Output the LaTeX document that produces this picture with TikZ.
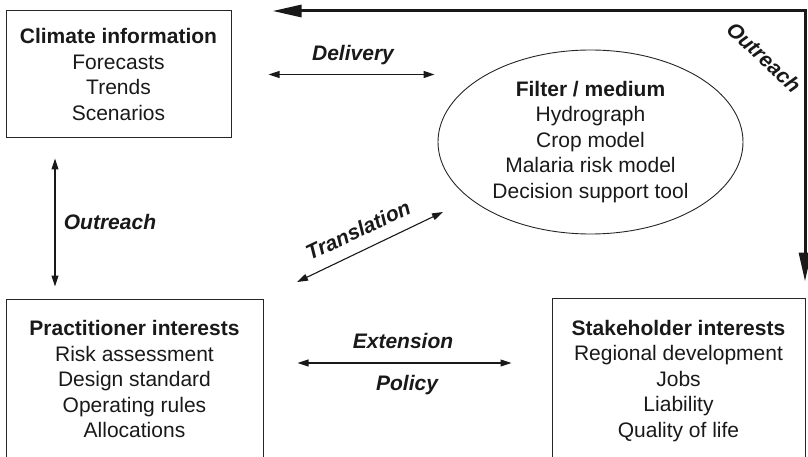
\documentclass[tikz,border=0pt]{standalone}
\usepackage{fontspec}
\setmainfont{Liberation Sans}
\usetikzlibrary{arrows.meta,shapes.geometric}
\begin{document}
\begin{tikzpicture}[x=1pt,y=-1pt,
 txt/.style={font=\fontsize{21}{25.5}\selectfont, align=center, text=black!90},
 boxnode/.style={txt, draw=black!85, line width=1pt, inner sep=0pt},
 ellnode/.style={txt, draw=black!85, ellipse, line width=0.9pt, inner sep=0pt},
 lbl/.style={font=\fontsize{21}{25}\selectfont\bfseries\itshape, inner sep=0pt, text=black!90},
 sarrow/.style={line width=1.1pt, draw=black!90, {Triangle[length=11pt,width=7pt]}-{Triangle[length=11pt,width=7pt]}},
 bigarrow/.style={line width=3pt, draw=black!90, {Triangle[length=29pt,width=12pt]}-{Triangle[length=29pt,width=12pt]}}]
\useasboundingbox (0,0) rectangle (808,457);
% boxes
\node[boxnode, minimum width=225pt, minimum height=127pt] (climate) at (118.5,74.5)
  {\textbf{Climate information}\\Forecasts\\Trends\\Scenarios};
\node[ellnode, minimum width=305pt, minimum height=184pt] (filter) at (590.5,142)
  {\textbf{Filter / medium}\\Hydrograph\\Crop model\\Malaria risk model\\Decision support tool};
\node[boxnode, minimum width=257pt, minimum height=160pt] (prac) at (134.5,379)
  {\textbf{Practitioner interests}\\Risk assessment\\Design standard\\Operating rules\\Allocations};
\node[boxnode, minimum width=253pt, minimum height=166pt] (stake) at (678.5,381)
  {\textbf{Stakeholder interests}\\Regional development\\Jobs\\Liability\\Quality of life};
% helper coordinates
\coordinate (ol) at (55,0);
\coordinate (ey) at (0,363);
\coordinate (t1) at (297,282);
\coordinate (t2) at (443,212);
\coordinate (corner) at (805,11);
% connectors
\draw[sarrow, shorten <=37pt, shorten >=3pt] (climate.east) -- (climate.east -| filter.west);
\draw[sarrow, shorten <=20pt, shorten >=12pt] (climate.south -| ol) -- (prac.north -| ol);
\draw[sarrow] (t1) -- (t2);
\draw[sarrow, shorten <=34pt, shorten >=40pt] (prac.east |- ey) -- (stake.west |- ey);
\draw[bigarrow, shorten <=41pt, shorten >=16pt] (climate.east |- corner) -- (corner) -- (stake.north -| corner);
% labels
\node[lbl] (ldel) at (353,55) {Delivery};
\node[lbl, rotate=25.3] (ltra) at (358,230) {Translation};
\node[lbl] (lout) at (110,222) {Outreach};
\node[lbl] (lext) at (403,341) {Extension};
\node[lbl] (lpol) at (407,385) {Policy};
\node[lbl, rotate=-43] (lout2) at (764,57) {Outreach};
\end{tikzpicture}
\end{document}
